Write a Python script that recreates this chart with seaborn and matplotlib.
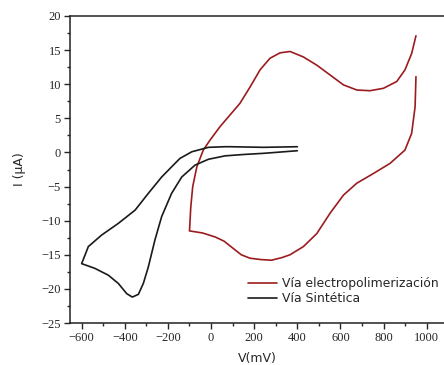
import matplotlib
matplotlib.use("Agg")
import matplotlib.pyplot as plt
from matplotlib.ticker import MultipleLocator
import seaborn as sns
import pandas as pd

# Cyclic voltammograms: potential (mV) and current (uA)
electro_v = [950, 930, 899, 861, 799, 737, 676, 614, 552, 490, 428, 366, 320, 273,
             227, 181, 134, 88, 42, -5, -36, -66, -85, -94, -100,
             -40, 20, 60, 100, 140, 180, 230, 280, 330, 366, 428, 490, 552,
             614, 676, 752, 830, 899, 930, 946, 950]
electro_i = [17.1, 14.5, 12.1, 10.4, 9.4, 9.05, 9.15, 9.9, 11.35, 12.8, 14.0, 14.8, 14.6, 13.8,
             12.1, 9.6, 7.2, 5.5, 3.8, 1.8, 0.35, -2.1, -5.0, -8.0, -11.5,
             -11.8, -12.4, -13.0, -14.0, -15.0, -15.5, -15.7, -15.8, -15.4, -15.0, -13.8, -11.9, -8.9,
             -6.25, -4.5, -3.1, -1.6, 0.35, 2.8, 6.7, 11.1]

synth_v = [400, 243, 88, 65, -12, -89, -144, -167, -229, -291, -352, -430, -507, -569, -600,
           -538, -476, -430, -391, -365, -337, -314, -291, -260, -229, -183, -136, -74,
           -12, 65, 150, 243, 400]
synth_i = [0.84, 0.75, 0.84, 0.84, 0.75, 0.1, -0.87, -1.6, -3.6, -6.0, -8.45, -10.4, -12.1, -13.8, -16.3,
           -17.0, -18.0, -19.2, -20.7, -21.2, -20.8, -19.2, -16.8, -12.8, -9.4, -6.0, -3.6, -1.85,
           -1.0, -0.5, -0.3, -0.13, 0.25]

series_names = ["Vía electropolimerización", "Vía Sintética"]
series_colors = ["#9b1c1f", "#1a1a1a"]

df = pd.concat([
    pd.DataFrame({"V": electro_v, "I": electro_i, "serie": series_names[0]}),
    pd.DataFrame({"V": synth_v, "I": synth_i, "serie": series_names[1]}),
], ignore_index=True)

sns.set_style("ticks")
plt.rcParams["font.family"] = ["DejaVu Sans"]
plt.rcParams["lines.solid_joinstyle"] = "round"

fig = plt.figure(figsize=(4.44, 3.65), dpi=100)
ax = fig.add_axes([70 / 444, 42 / 365, 1 - 70 / 444, 307 / 365])

for name, color in zip(series_names, series_colors):
    sub = df[df["serie"] == name]
    sns.lineplot(data=sub, x="V", y="I", sort=False, estimator=None,
                 color=color, lw=1.2, ax=ax, label=name)

ax.set_xlim(-654, 1080)
ax.set_ylim(-25, 20)
ax.xaxis.set_major_locator(MultipleLocator(200))
ax.xaxis.set_minor_locator(MultipleLocator(100))
ax.yaxis.set_major_locator(MultipleLocator(5))
ax.yaxis.set_minor_locator(MultipleLocator(2.5))
ax.tick_params(which="major", direction="out", length=4.5, width=1, labelsize=9, pad=2)
ax.tick_params(which="minor", direction="out", length=2.5, width=1)
for lab in ax.get_xticklabels() + ax.get_yticklabels():
    lab.set_fontfamily("Liberation Serif")

ax.spines["right"].set_visible(False)
for s in ["left", "bottom", "top"]:
    ax.spines[s].set_linewidth(1.1)
    ax.spines[s].set_color("#222222")

ax.set_xlabel("V(mV)", fontsize=9, labelpad=6)
ax.set_ylabel("I (μA)", fontsize=9, labelpad=11)

ax.legend(loc="lower right", bbox_to_anchor=(1.005, 0.035), frameon=False, fontsize=8.9,
          handlelength=2.3, handletextpad=0.4, labelspacing=0.12, borderaxespad=0.2)

fig.savefig("out.png", dpi=100)
